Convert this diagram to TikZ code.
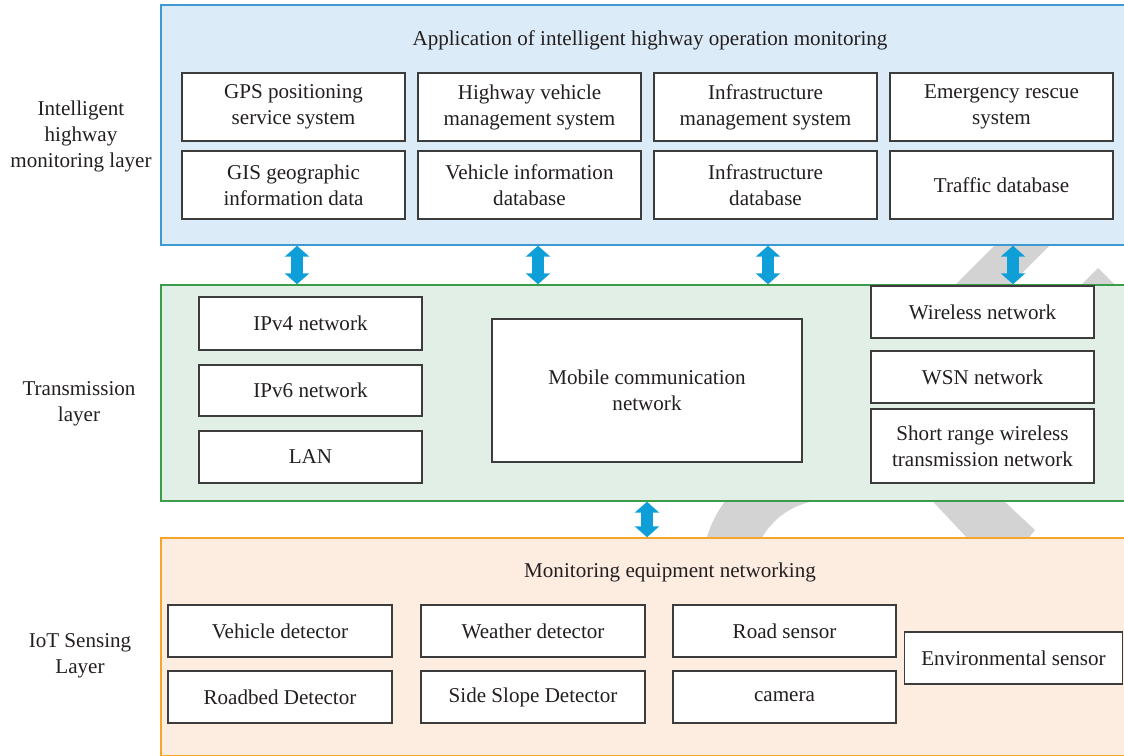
\documentclass[tikz,border=0pt]{standalone}
\usepackage{fontspec}
\setmainfont{Liberation Serif}
\usetikzlibrary{arrows.meta, calc}
\definecolor{text_dark}{RGB}{35, 31, 32}
\definecolor{box_border}{RGB}{60, 60, 60}
\definecolor{monitor_blue}{RGB}{61, 154, 209}
\definecolor{monitor_fill}{RGB}{219, 235, 247}
\definecolor{trans_green}{RGB}{59, 156, 74}
\definecolor{trans_fill}{RGB}{226, 239, 230}
\definecolor{sense_orange}{RGB}{246, 164, 44}
\definecolor{sense_fill}{RGB}{253, 237, 225}
\definecolor{link_blue}{RGB}{14, 159, 216}
\definecolor{mark_grey}{RGB}{211, 211, 211}
\tikzset{
    layer_box/.style={
        inner sep=0pt,
        line width=0.85pt,
        minimum width=19.32cm
    },
    monitor_layer/.style={layer_box, draw=monitor_blue, fill=monitor_fill, minimum height=4.8cm},
    trans_layer/.style={layer_box, draw=trans_green, fill=trans_fill, minimum height=4.32cm},
    sense_layer/.style={layer_box, draw=sense_orange, fill=sense_fill, minimum height=4.35cm},
    plain_text/.style={
        align=center,
        text=text_dark,
        inner sep=0pt,
        font=\fontsize{12pt}{14.8pt}\selectfont
    },
    sub_box/.style={
        plain_text,
        draw=box_border,
        fill=white,
        line width=0.9pt
    },
    app_box/.style={sub_box, minimum width=4.46cm, minimum height=1.36cm},
    net_box/.style={sub_box, minimum width=4.46cm, minimum height=1.04cm},
    sensor_box/.style={sub_box, minimum width=4.48cm, minimum height=1.04cm},
    link_arrow/.style={
        {Triangle[width=0.48cm,length=0.22cm]}-{Triangle[width=0.48cm,length=0.22cm]},
        line width=0.24cm,
        draw=link_blue
    }
}

\begin{document}
\begin{tikzpicture}[x=0.02cm, y=-0.02cm]
\useasboundingbox (0,0) rectangle (1124,756);

% Grey background mark
\fill[mark_grey] (945,295) -- (1000,240) -- (1055,240) -- (1000,295) -- cycle;
\fill[mark_grey] (1071,295) -- (1098,268) -- (1125,295) -- cycle;
\fill[mark_grey] (922,490) -- (992,490) -- (1035,530) -- (1027,540) -- (969,540) -- cycle;
\begin{scope}
    \clip (600,480) rectangle (815,560);
    \fill[mark_grey, even odd rule] (827,575) circle (2.52cm) (827,575) circle (1.5cm);
\end{scope}

% Layers
\node[monitor_layer] (mon_layer) at (644,125) {};
\node[trans_layer] (trans_layer) at (644,393) {};
\node[sense_layer] (sense_layer) at (644,646.75) {};

% Layer names
\node[plain_text] (mon_name) at (81,136) {Intelligent\\highway\\monitoring layer};
\node[plain_text] (trans_name) at (79,404) {Transmission\\layer};
\node[plain_text] (sense_name) at (80,656) {IoT Sensing\\Layer};

% Intelligent highway monitoring layer
\node[plain_text] (app_title) at (650,40) {Application of intelligent highway operation monitoring};
\node[app_box] (gps) at (293.5,107) {GPS positioning\\service system};
\node[app_box] (hvm) at (529.5,107) {Highway vehicle\\management system};
\node[app_box] (infra) at (765.5,107) {Infrastructure\\management system};
\node[app_box] (emerg) at (1001.5,107) {Emergency rescue\\system};
\node[app_box] (gis) at (293.5,185) {GIS geographic\\information data};
\node[app_box] (vinfo) at (529.5,185) {Vehicle information\\database};
\node[app_box] (infdb) at (765.5,185) {Infrastructure\\database};
\node[app_box] (traffic) at (1001.5,185) {Traffic database};

% Transmission layer
\node[net_box, minimum height=1.06cm] (ipv4) at (310.5,323.5) {IPv4 network};
\node[net_box, minimum height=1.02cm] (ipv6) at (310.5,390.5) {IPv6 network};
\node[net_box] (lan) at (310.5,457) {LAN};
\node[sub_box, minimum width=6.2cm, minimum height=2.86cm] (mobile) at (647,390.5) {Mobile communication\\network};
\node[net_box] (wireless) at (982.5,312) {Wireless network};
\node[net_box] (wsn) at (982.5,377) {WSN network};
\node[net_box, minimum height=1.48cm] (short) at (982.5,446) {Short range wireless\\transmission network};

% IoT sensing layer
\node[plain_text] (sense_title) at (670,572) {Monitoring equipment networking};
\node[sensor_box] (vdet) at (280,631) {Vehicle detector};
\node[sensor_box] (wdet) at (533,631) {Weather detector};
\node[sensor_box, minimum width=4.46cm] (road) at (784.5,631) {Road sensor};
\node[sensor_box] (roadbed) at (280,697) {Roadbed Detector};
\node[sensor_box] (slope) at (533,697) {Side Slope Detector};
\node[sensor_box, minimum width=4.46cm] (camera) at (784.5,697) {camera};
\node[sensor_box, minimum width=4.36cm] (env) at (1013.5,658) {Environmental sensor};

% Links between layers
\foreach \col/\dx in {gps/3.5, hvm/8.5, infra/2.5, emerg/11.5} {
    \draw[link_arrow] ($(mon_layer.south -| \col)+(\dx,0)$) -- ($(trans_layer.north -| \col)+(\dx,0)$);
}
\draw[link_arrow] (trans_layer.south -| mobile) -- (sense_layer.north -| mobile);

\end{tikzpicture}
\end{document}
